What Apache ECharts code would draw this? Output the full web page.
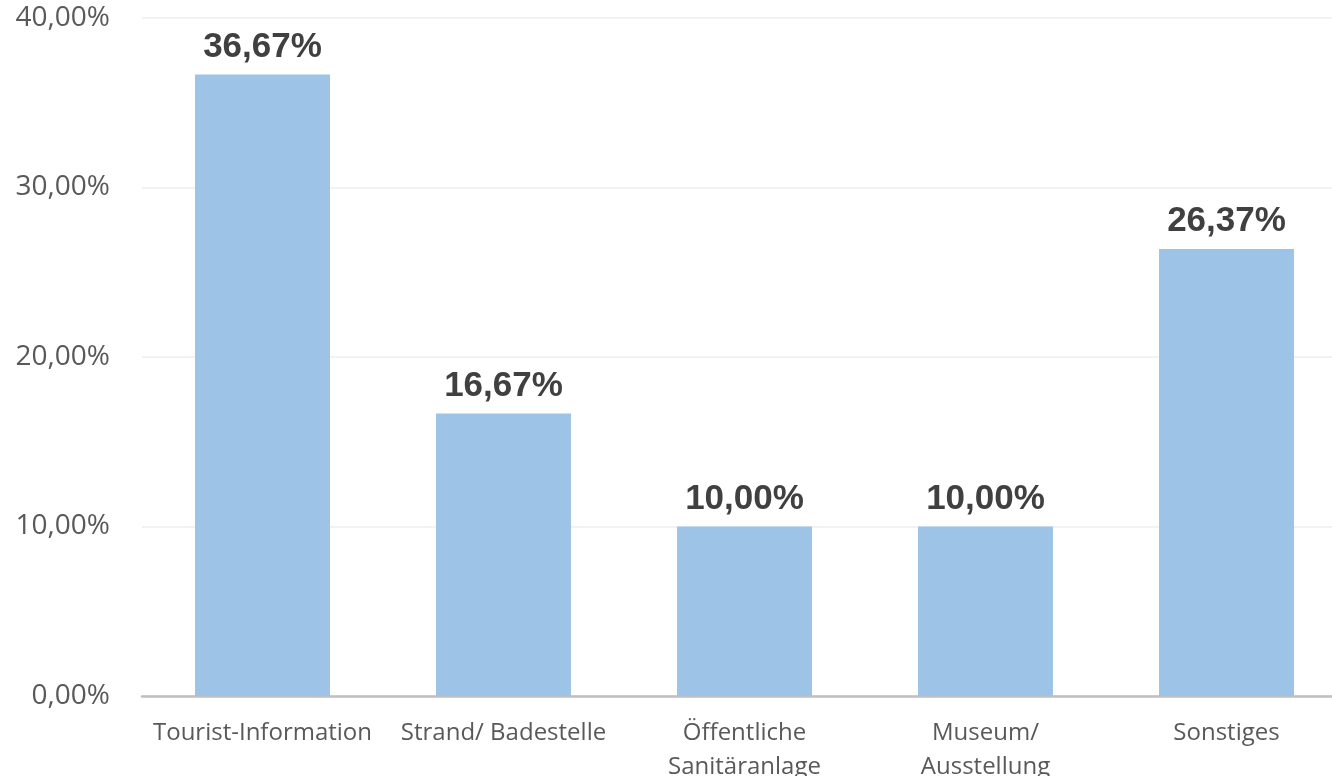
<!DOCTYPE html>
<html><head><meta charset="utf-8">
<script src="https://cdn.jsdelivr.net/npm/echarts@6/dist/echarts.min.js"></script>
<style>html,body{margin:0;padding:0;background:#fff}#c{width:1332px;height:776px}</style>
</head><body><div id="c"></div>
<script>
const categories = ["Tourist-Information", "Strand/ Badestelle", "Öffentliche\nSanitäranlage", "Museum/\nAusstellung", "Sonstiges"];
const values = [36.67, 16.67, 10.00, 10.00, 26.37];
const yTicks = [0, 10, 20, 30, 40];
const fmt = v => v.toFixed(2).replace('.', ',') + '%';
const chart = echarts.init(document.getElementById('c'));
chart.setOption({
  animation: false,
  grid: {left: 142, right: -15, top: 18, bottom: 80, containLabel: false, outerBoundsMode: 'none'},
  xAxis: {
    type: 'category', data: categories,
    axisLine: {lineStyle: {color: '#BFBFBF', width: 2.5}},
    axisTick: {show: false},
    axisLabel: {color: '#595959', fontSize: 24, fontFamily: 'Open Sans', margin: 20, lineHeight: 34, interval: 0}
  },
  yAxis: {
    type: 'value', min: yTicks[0], max: yTicks[yTicks.length - 1], interval: 10,
    axisLine: {show: false}, axisTick: {show: false},
    splitLine: {lineStyle: {color: '#EEEEEE', width: 1.5}},
    axisLabel: {color: '#595959', fontSize: 28, fontFamily: 'Open Sans', margin: 32, formatter: v => fmt(v)}
  },
  series: [{
    type: 'bar', data: values, barCategoryGap: '44%',
    itemStyle: {color: '#9DC3E6'},
    label: {show: true, position: 'top', distance: 10, color: '#404040', fontSize: 35, fontWeight: 'bold', fontFamily: 'Liberation Sans', formatter: p => fmt(p.value)}
  }]
});
</script></body></html>
